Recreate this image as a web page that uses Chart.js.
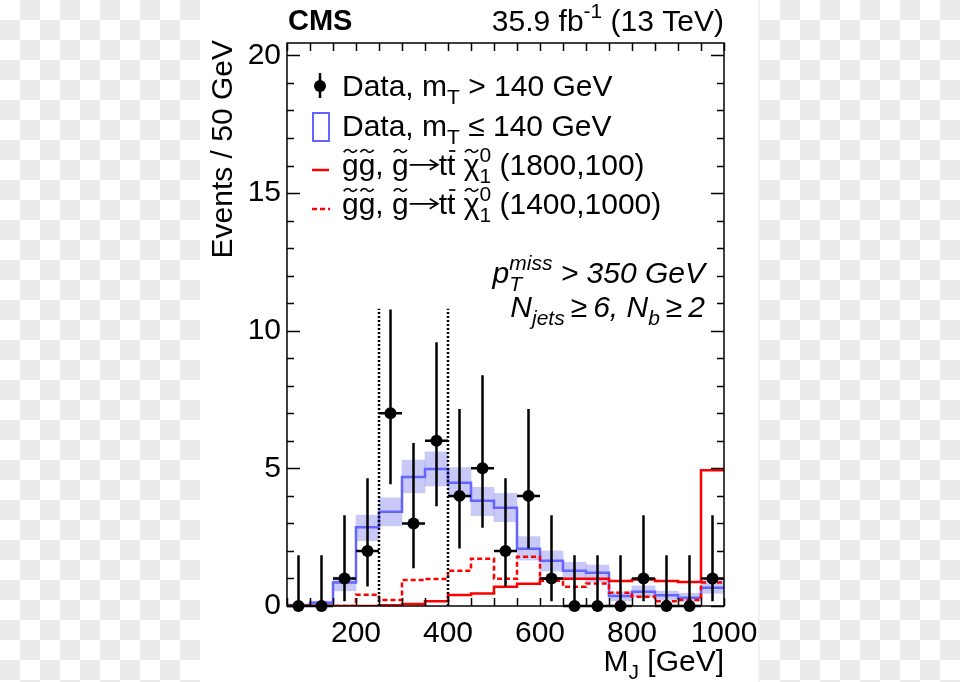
<!DOCTYPE html>
<html>
<head>
<meta charset="utf-8">
<script src="https://cdn.jsdelivr.net/npm/chart.js@4.4.1/dist/chart.umd.min.js"></script>
<style>
  html, body { margin: 0; padding: 0; }
  body {
    width: 960px; height: 682px; overflow: hidden; position: relative;
    background-color: #fff;
    background-image: conic-gradient(#ebebeb 0 25%, #fff 0 50%, #ebebeb 0 75%, #fff 0);
    background-size: 40px 40px;
  }
  #paper { position: absolute; left: 200px; top: 0; width: 558px; height: 682px; background: #fff; border-right: 2px solid #f2f2f2; }
  #wrap { position: absolute; left: 0; top: 0; width: 960px; height: 682px; }
</style>
</head>
<body>
<div id="paper"></div>
<div id="wrap"><canvas id="chart" width="960" height="682"></canvas></div>
<script>
// M_J bins, 50 GeV wide
const binLow = [50, 100, 150, 200, 250, 300, 350, 400, 450, 500, 550, 600, 650, 700, 750, 800, 850, 900, 950];
const binCenter = [75, 125, 175, 225, 275, 325, 375, 425, 475, 525, 575, 625, 675, 725, 775, 825, 875, 925, 975];
const binWidth = 50;

// Data, mT > 140 GeV (with Poisson error bars)
const dataCounts = [0, 0, 1, 2, 7, 3, 6, 4, 5, 2, 4, 1, 0, 0, 0, 1, 0, 0, 1];
const dataLow  = [0, 0, 0.17, 0.71, 4.42, 1.37, 3.62, 2.09, 2.84, 0.71, 2.09, 0.17, 0, 0, 0, 0.17, 0, 0, 0.17];
const dataHigh = [1.84, 1.84, 3.30, 4.64, 10.77, 5.92, 9.58, 7.16, 8.38, 4.64, 7.16, 3.30, 1.84, 1.84, 1.84, 3.30, 1.84, 1.84, 3.30];

// Data, mT <= 140 GeV (normalised) and its band
const ctrlValues   = [0.03, 0.12, 0.85, 2.86, 3.42, 4.69, 4.98, 4.48, 3.82, 3.57, 2.08, 1.64, 1.28, 1.21, 0.36, 0.52, 0.39, 0.30, 0.66];
const ctrlBandLow  = [0.00, 0.06, 0.55, 2.37, 2.91, 4.11, 4.36, 3.95, 3.28, 3.06, 1.67, 1.27, 1.00, 0.88, 0.19, 0.34, 0.22, 0.18, 0.46];
const ctrlBandHigh = [0.08, 0.18, 1.06, 3.30, 3.93, 5.30, 5.60, 5.03, 4.31, 4.09, 2.52, 2.00, 1.59, 1.49, 0.51, 0.73, 0.54, 0.46, 0.94];

// signal models
const sig1800 = [0, 0, 0, 0, 0.03, 0.07, 0.17, 0.40, 0.45, 0.70, 0.81, 0.99, 0.99, 0.99, 0.91, 0.96, 0.91, 0.87, 4.93];
const sig1400 = [0, 0, 0, 0.41, 0.22, 0.94, 0.98, 1.28, 1.72, 0.99, 1.79, 0.92, 0.70, 0.82, 0.48, 0.34, 0.17, 0.22, 0.85];

// signal window lines
const windowEdges = [250, 400];
const windowTop = 10.8;

const xTicks = [200, 400, 600, 800, 1000];
const yTicks = [0, 5, 10, 15, 20];
const xMin = 50, xMax = 1000, yMax = 20.45;

const FONT = '"Liberation Sans", Arial, sans-serif';

function histPoints(vals) {
  const pts = binLow.map((x, i) => ({ x: x, y: vals[i] }));
  pts.push({ x: binLow[binLow.length - 1] + binWidth, y: vals[vals.length - 1] });
  return pts;
}

// draw text made of pieces (subscripts, superscripts, tildes, bars, arrow)
function drawRuns(ctx, parts, x, y, size, align, style) {
  const font = s => (style || '') + ' ' + s + 'px ' + FONT;
  const items = [];
  let w = 0;
  parts.forEach(p => {
    const s = (p.sub || p.sup) ? size * 0.7 : size;
    ctx.font = font(s);
    const pw = p.arrow ? size * 1.0 : ctx.measureText(p.t).width;
    items.push({ p: p, s: s, pw: pw, x: w });
    if (!p.keep) w += pw;
  });
  // when a sup is stacked over a sub, advance by the wider one
  for (let i = 0; i < items.length - 1; i++) {
    if (items[i].p.keep && items[i].pw > items[i + 1].pw) {
      const extra = items[i].pw - items[i + 1].pw;
      for (let j = i + 2; j < items.length; j++) items[j].x += extra;
      w += extra;
    }
  }
  const x0 = align === 'right' ? x - w : x;
  ctx.fillStyle = '#000';
  ctx.strokeStyle = '#000';
  ctx.textBaseline = 'alphabetic';
  ctx.textAlign = 'left';
  items.forEach(it => {
    const p = it.p;
    const dy = p.sub ? size * 0.28 : (p.sup ? -size * 0.42 : 0);
    ctx.font = font(it.s);
    const gx = x0 + it.x;
    if (p.arrow) {
      const ay = y - size * 0.34;
      ctx.save();
      ctx.lineWidth = 1.8;
      ctx.beginPath();
      ctx.moveTo(gx + 1, ay); ctx.lineTo(gx + it.pw - 2, ay);
      ctx.moveTo(gx + it.pw - 9, ay - 5); ctx.lineTo(gx + it.pw - 1, ay); ctx.lineTo(gx + it.pw - 9, ay + 5);
      ctx.stroke();
      ctx.restore();
      return;
    }
    ctx.fillText(p.t, gx, y + dy);
    if (p.tilde) {
      const cx = gx + it.pw / 2, cy = y - size * 0.8;
      const hw = size * 0.22, a = size * 0.07;
      ctx.save();
      ctx.lineWidth = 1.7;
      ctx.beginPath();
      ctx.moveTo(cx - hw, cy + a * 0.6);
      ctx.bezierCurveTo(cx - hw * 0.5, cy - a * 1.6, cx, cy - a * 0.2, cx, cy);
      ctx.bezierCurveTo(cx, cy + a * 0.2, cx + hw * 0.5, cy + a * 1.6, cx + hw, cy - a * 0.6);
      ctx.stroke();
      ctx.restore();
    }
    if (p.bar) {
      ctx.save();
      ctx.lineWidth = 1.7;
      ctx.beginPath();
      ctx.moveTo(gx + 2, y - size * 0.8);
      ctx.lineTo(gx + it.pw, y - size * 0.8);
      ctx.stroke();
      ctx.restore();
    }
  });
}

const errorBars = {
  id: 'errorBars',
  afterDatasetsDraw(chart) {
    const { ctx, scales: { x, y } } = chart;
    ctx.save();
    ctx.strokeStyle = '#000';
    ctx.lineWidth = 2.5;
    binCenter.forEach((c, i) => {
      const px = x.getPixelForValue(c);
      const py = y.getPixelForValue(dataCounts[i]);
      ctx.beginPath();
      ctx.moveTo(px, y.getPixelForValue(dataLow[i]));
      ctx.lineTo(px, y.getPixelForValue(dataHigh[i]));
      ctx.moveTo(x.getPixelForValue(c - binWidth / 2), py);
      ctx.lineTo(x.getPixelForValue(c + binWidth / 2), py);
      ctx.stroke();
    });
    ctx.restore();
  }
};

const decorations = {
  id: 'decorations',
  afterDraw(chart) {
    const { ctx, chartArea: a, scales: { x, y } } = chart;
    ctx.save();
    // frame
    ctx.strokeStyle = '#000';
    ctx.lineWidth = 1.5;
    ctx.strokeRect(a.left, a.top, a.right - a.left, a.bottom - a.top);
    // ticks, drawn inward on all four sides
    ctx.beginPath();
    for (let v = xMin; v <= xMax; v += 50) {
      const px = Math.round(x.getPixelForValue(v)) + 0.5;
      ctx.moveTo(px, a.bottom); ctx.lineTo(px, a.bottom - 8);
      ctx.moveTo(px, a.top); ctx.lineTo(px, a.top + 8);
    }
    for (let v = 0; v <= 20; v += 1) {
      const py = Math.round(y.getPixelForValue(v)) + 0.5;
      const len = v % 5 === 0 ? 13 : 7;
      ctx.moveTo(a.left, py); ctx.lineTo(a.left + len, py);
      ctx.moveTo(a.right, py); ctx.lineTo(a.right - len, py);
    }
    ctx.stroke();

    // header
    drawRuns(ctx, [{ t: 'CMS' }], 288, 30, 29, 'left', 'bold');
    drawRuns(ctx, [{ t: '35.9 fb' }, { t: '-1', sup: true }, { t: ' (13 TeV)' }], 724, 31, 30, 'right');

    // axis titles
    drawRuns(ctx, [{ t: 'M' }, { t: 'J', sub: true }, { t: ' [GeV]' }], 724, 671, 30, 'right');
    ctx.save();
    ctx.translate(232, 40);
    ctx.rotate(-Math.PI / 2);
    drawRuns(ctx, [{ t: 'Events / 50 GeV' }], 0, 0, 30, 'right');
    ctx.restore();

    // legend
    const lx = 342;
    ctx.strokeStyle = '#000'; ctx.lineWidth = 2.5;
    ctx.beginPath(); ctx.moveTo(320, 73); ctx.lineTo(320, 98); ctx.stroke();
    ctx.fillStyle = '#000';
    ctx.beginPath(); ctx.arc(320, 86, 6, 0, Math.PI * 2); ctx.fill();
    drawRuns(ctx, [{ t: 'Data, m' }, { t: 'T', sub: true }, { t: ' > 140 GeV' }], lx, 96, 30, 'left');
    ctx.strokeStyle = '#6464ff'; ctx.lineWidth = 2;
    ctx.strokeRect(313, 113, 16, 28);
    drawRuns(ctx, [{ t: 'Data, m' }, { t: 'T', sub: true }, { t: ' \u2264 140 GeV' }], lx, 136, 30, 'left');
    ctx.strokeStyle = '#ff0000'; ctx.lineWidth = 2.5;
    ctx.beginPath(); ctx.moveTo(312, 170); ctx.lineTo(329, 170); ctx.stroke();
    ctx.setLineDash([5, 3]);
    ctx.beginPath(); ctx.moveTo(312, 209); ctx.lineTo(330, 209); ctx.stroke();
    ctx.setLineDash([]);
    const sigLabel = mass => [
      { t: 'g', tilde: true }, { t: 'g', tilde: true }, { t: ', ' }, { t: 'g', tilde: true },
      { t: '', arrow: true }, { t: 't' }, { t: 't', bar: true }, { t: ' ' },
      { t: '\u03c7', tilde: true }, { t: '0', sup: true, keep: true }, { t: '1', sub: true },
      { t: ' ' + mass }
    ];
    drawRuns(ctx, sigLabel('(1800,100)'), lx, 175, 30, 'left');
    drawRuns(ctx, sigLabel('(1400,1000)'), lx, 214, 30, 'left');

    // selection text
    drawRuns(ctx, [{ t: 'p' }, { t: 'miss', sup: true, keep: true }, { t: 'T', sub: true }, { t: ' > 350 GeV' }], 705, 283, 30, 'right', 'italic');
    drawRuns(ctx, [{ t: 'N' }, { t: 'jets', sub: true }, { t: '\u2009\u2265\u20096, N' }, { t: 'b', sub: true }, { t: '\u2009\u2265\u20092' }], 705, 317, 30, 'right', 'italic');
    ctx.restore();
  }
};

const tickFont = { family: FONT, size: 30 };

new Chart(document.getElementById('chart').getContext('2d'), {
  type: 'line',
  data: {
    datasets: [
      {
        type: 'scatter',
        data: binCenter.map((c, i) => ({ x: c, y: dataCounts[i] })),
        pointRadius: 6,
        pointBackgroundColor: '#000',
        pointBorderWidth: 0,
        showLine: false,
        clip: false,
        order: 0
      },
      {
        data: [{ x: windowEdges[0], y: 0 }, { x: windowEdges[0], y: windowTop }],
        borderColor: '#000', borderWidth: 2.5, borderDash: [2, 2], pointRadius: 0, order: 2
      },
      {
        data: [{ x: windowEdges[1], y: 0 }, { x: windowEdges[1], y: windowTop }],
        borderColor: '#000', borderWidth: 2.5, borderDash: [2, 2], pointRadius: 0, order: 2
      },
      {
        data: histPoints(sig1800),
        stepped: 'before', borderColor: '#ff0000', borderWidth: 2.5, pointRadius: 0, fill: false, order: 3
      },
      {
        data: histPoints(sig1400),
        stepped: 'before', borderColor: '#ff0000', borderWidth: 2.5, borderDash: [5, 3], pointRadius: 0, fill: false, order: 4
      },
      {
        data: histPoints(ctrlValues),
        stepped: 'before', borderColor: '#6464ff', borderWidth: 2.5, pointRadius: 0, fill: false, order: 5
      },
      {
        type: 'bar',
        data: binCenter.map((c, i) => ({ x: c, y: [ctrlBandLow[i], ctrlBandHigh[i]] })),
        backgroundColor: 'rgba(100, 100, 232, 0.35)',
        borderWidth: 0,
        barPercentage: 1,
        categoryPercentage: 1,
        order: 10
      }
    ]
  },
  options: {
    responsive: false,
    animation: false,
    events: [],
    layout: { padding: { left: 0, top: 43, right: 236, bottom: 0 } },
    plugins: { legend: { display: false }, tooltip: { enabled: false } },
    scales: {
      x: {
        type: 'linear', min: xMin, max: xMax, offset: false,
        grid: { display: false, drawTicks: false },
        border: { display: false },
        ticks: { font: tickFont, color: '#000', padding: 10, maxRotation: 0, autoSkip: false, callback: v => String(v) },
        afterBuildTicks: s => { s.ticks = xTicks.map(v => ({ value: v })); },
        afterFit: s => { s.height = 76; }
      },
      y: {
        type: 'linear', min: 0, max: yMax,
        grid: { display: false, drawTicks: false },
        border: { display: false },
        ticks: { font: tickFont, color: '#000', padding: 6, callback: v => String(v) },
        afterBuildTicks: s => { s.ticks = yTicks.map(v => ({ value: v })); },
        afterFit: s => { s.width = 287; }
      }
    }
  },
  plugins: [errorBars, decorations]
});
</script>
</body>
</html>
